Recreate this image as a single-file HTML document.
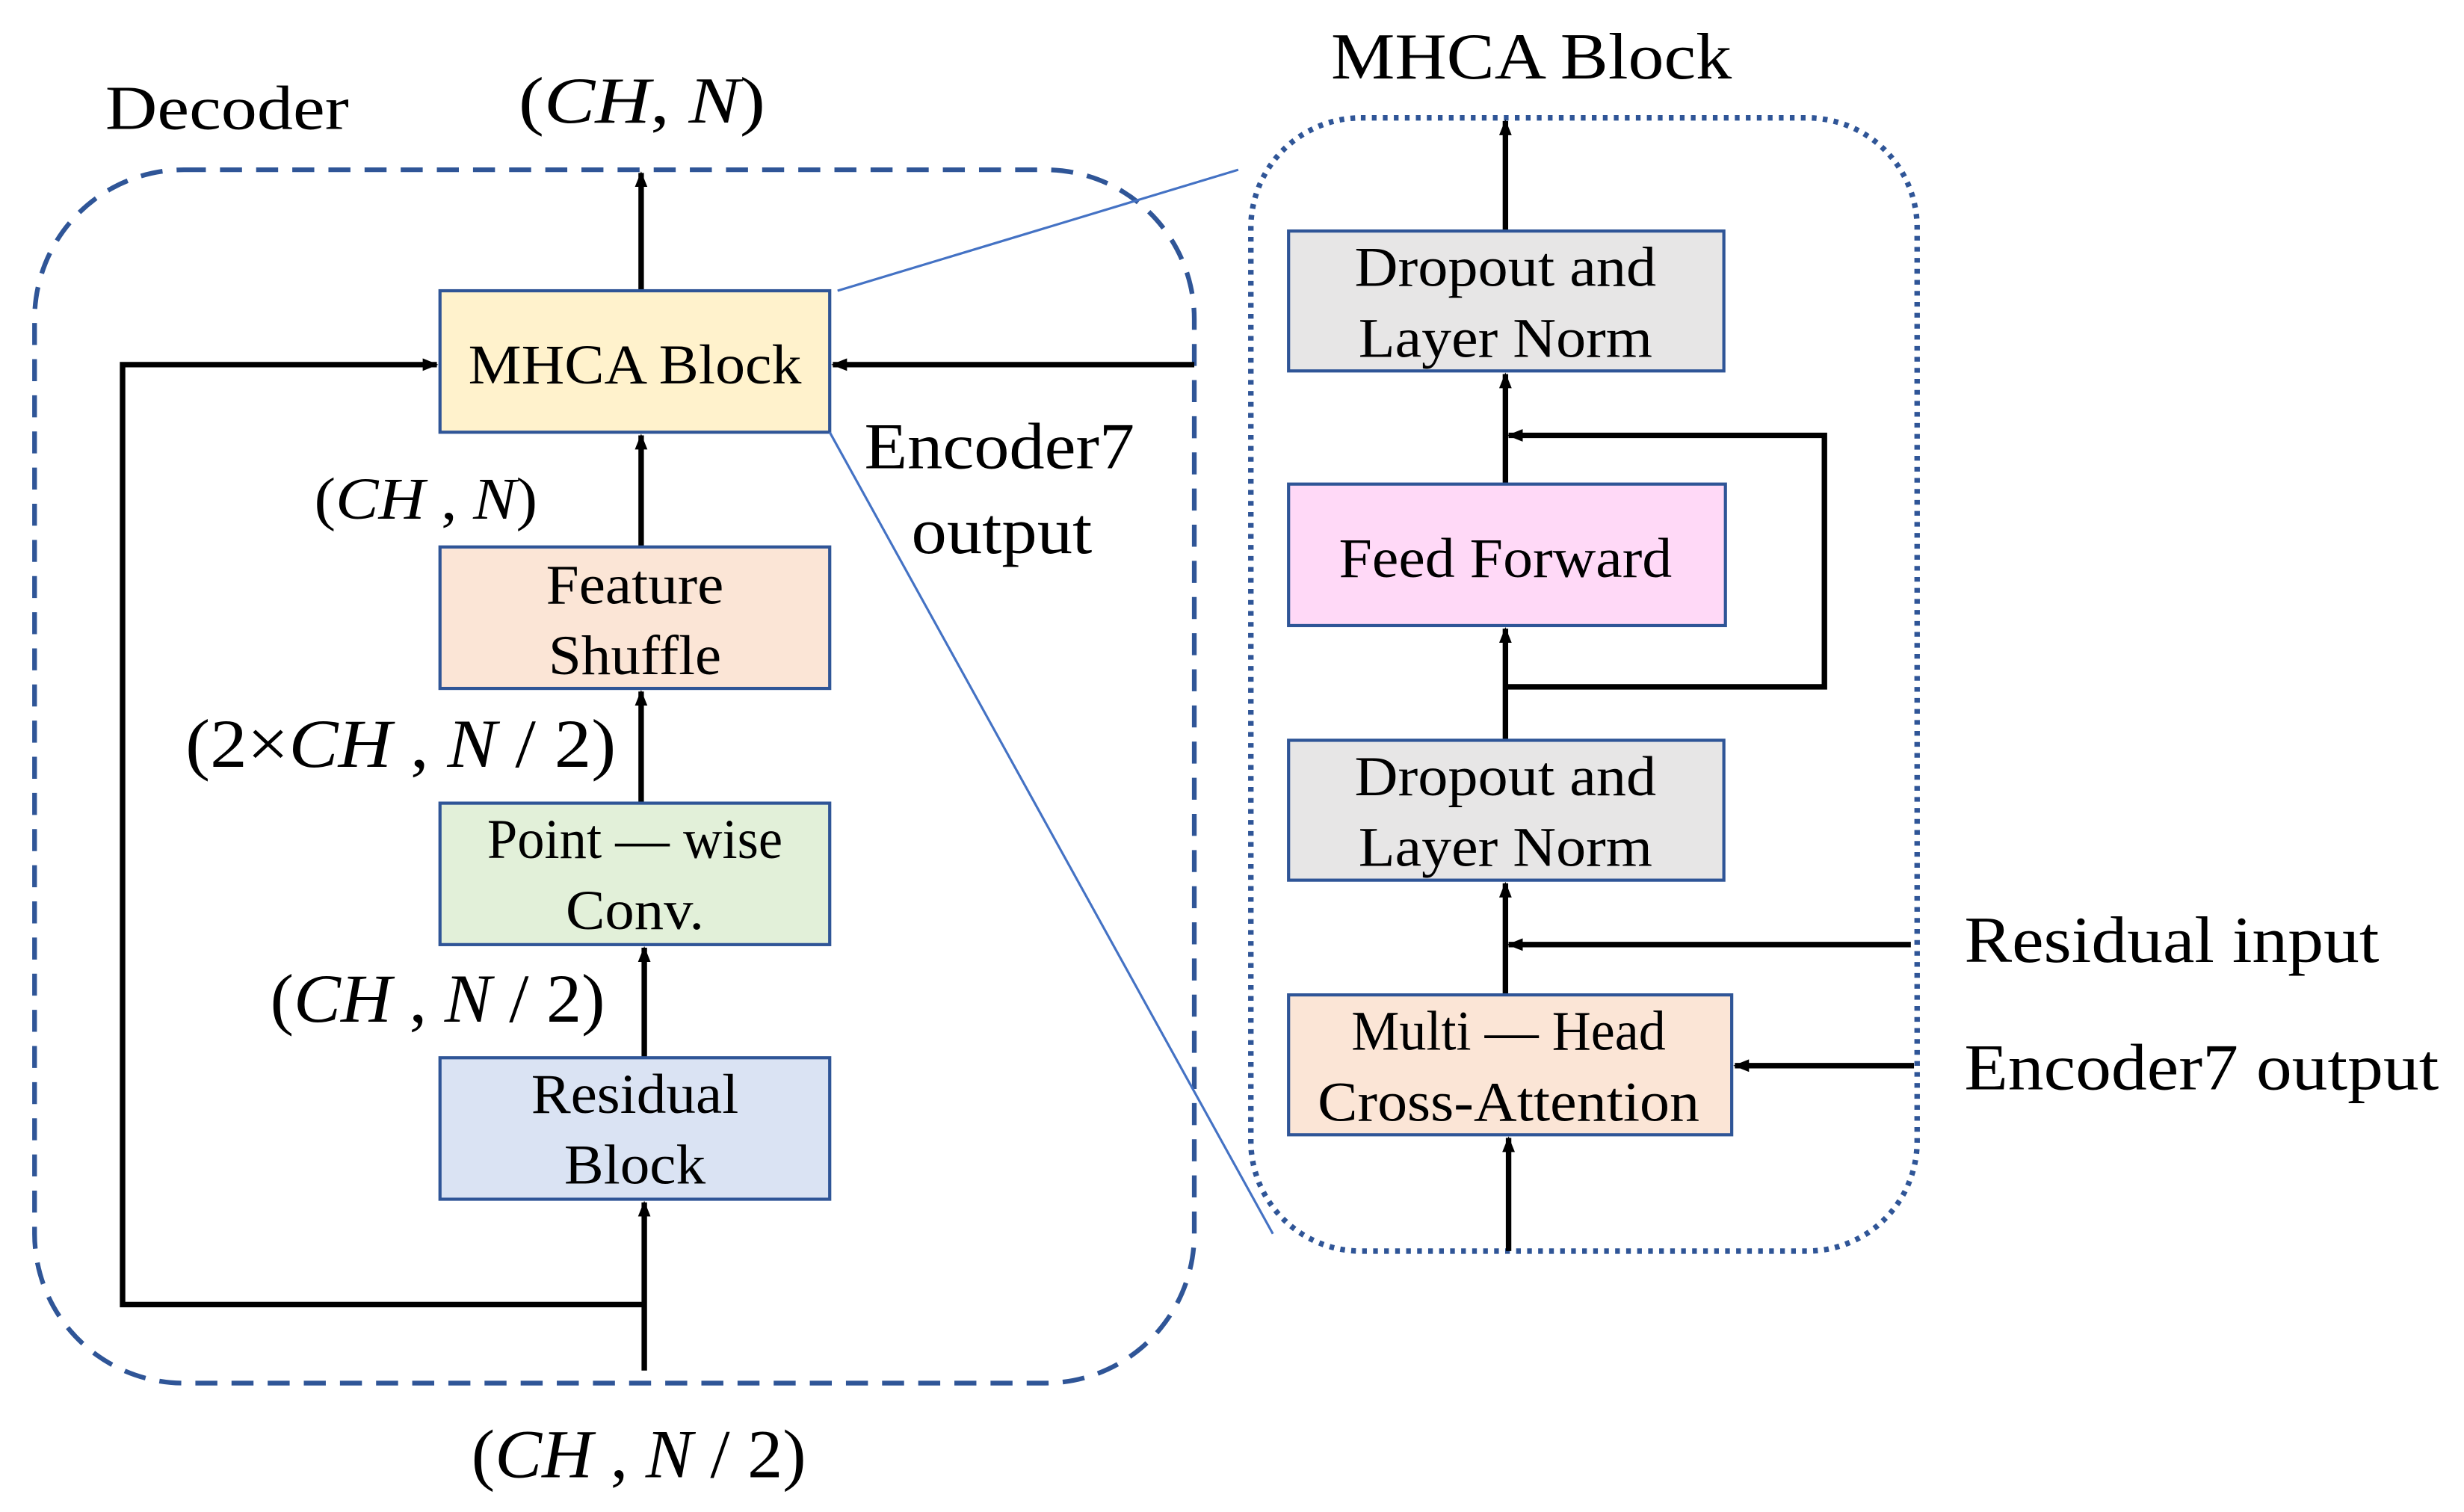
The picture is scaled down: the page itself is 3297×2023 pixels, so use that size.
<!DOCTYPE html>
<html><head><meta charset="utf-8"><style>
html,body{margin:0;padding:0;background:#fff;}
svg{display:block;}
text{font-family:"Liberation Serif",serif;fill:#000;}
.it{font-style:italic;}
</style></head><body>
<svg width="3297" height="2023" viewBox="0 0 1568 962" preserveAspectRatio="none" xmlns="http://www.w3.org/2000/svg">
<defs>
<marker id="a" markerWidth="10" markerHeight="8" refX="9" refY="4" orient="auto" markerUnits="userSpaceOnUse">
<path d="M0,0 L10,4 L0,8 z" fill="#000"/></marker>
</defs>
<rect x="22" y="108" width="738" height="772" rx="95" ry="95" fill="none" stroke="#2f5597" stroke-width="3" stroke-dasharray="14 9"/>
<text x="67" y="82" font-size="40" textLength="155" lengthAdjust="spacingAndGlyphs">Decoder</text>
<text x="330" y="78" font-size="42" textLength="157" lengthAdjust="spacingAndGlyphs">(<tspan class="it">CH</tspan>, <tspan class="it">N</tspan>)</text>

<g stroke="#000" stroke-width="3.5" fill="none">
<line x1="408" y1="185" x2="408" y2="110" marker-end="url(#a)"/>
<line x1="408" y1="348" x2="408" y2="277" marker-end="url(#a)"/>
<line x1="408" y1="511" x2="408" y2="440" marker-end="url(#a)"/>
<line x1="410" y1="673" x2="410" y2="603" marker-end="url(#a)"/>
<line x1="410" y1="872" x2="410" y2="765" marker-end="url(#a)"/>
<polyline points="410,830 78,830 78,232 278,232" marker-end="url(#a)"/>
<line x1="760" y1="232" x2="530" y2="232" marker-end="url(#a)"/>
</g>

<g stroke="#2f5597" stroke-width="2">
<rect x="280" y="185" width="248" height="90" fill="#fff2cc"/>
<rect x="280" y="348" width="248" height="90" fill="#fbe5d6"/>
<rect x="280" y="511" width="248" height="90" fill="#e2f0d9"/>
<rect x="280" y="673" width="248" height="90" fill="#dae3f3"/>
</g>
<g font-size="36" text-anchor="middle">
<text x="404" y="244" textLength="212" lengthAdjust="spacingAndGlyphs">MHCA Block</text>
<text x="404" y="384" textLength="113" lengthAdjust="spacingAndGlyphs">Feature</text><text x="404" y="429" textLength="110" lengthAdjust="spacingAndGlyphs">Shuffle</text>
<text x="404" y="546" textLength="188" lengthAdjust="spacingAndGlyphs">Point — wise</text><text x="404" y="591" textLength="88" lengthAdjust="spacingAndGlyphs">Conv.</text>
<text x="404" y="708" textLength="132" lengthAdjust="spacingAndGlyphs">Residual</text><text x="404" y="753" textLength="90" lengthAdjust="spacingAndGlyphs">Block</text>
</g>
<text x="200" y="330" font-size="38" textLength="142" lengthAdjust="spacingAndGlyphs">(<tspan class="it">CH</tspan> , <tspan class="it">N</tspan>)</text>
<text x="118" y="488" font-size="44" textLength="274" lengthAdjust="spacingAndGlyphs">(2×<tspan class="it">CH</tspan> , <tspan class="it">N</tspan> / 2)</text>
<text x="172" y="650" font-size="44" textLength="213" lengthAdjust="spacingAndGlyphs">(<tspan class="it">CH</tspan> , <tspan class="it">N</tspan> / 2)</text>
<text x="300" y="940" font-size="44" textLength="213" lengthAdjust="spacingAndGlyphs">(<tspan class="it">CH</tspan> , <tspan class="it">N</tspan> / 2)</text>
<text x="550" y="298" font-size="42" textLength="172" lengthAdjust="spacingAndGlyphs">Encoder7</text>
<text x="580" y="352" font-size="42" textLength="115" lengthAdjust="spacingAndGlyphs">output</text>

<line x1="533" y1="185" x2="788" y2="108" stroke="#4472c4" stroke-width="1.5"/>
<line x1="528" y1="275" x2="810" y2="785" stroke="#4472c4" stroke-width="1.5"/>

<rect x="796" y="75" width="424" height="721" rx="70" ry="70" fill="none" stroke="#2f5597" stroke-width="3.5" stroke-dasharray="3 4"/>
<text x="847" y="50" font-size="42" textLength="255" lengthAdjust="spacingAndGlyphs">MHCA Block</text>

<g stroke="#000" stroke-width="3.5" fill="none">
<line x1="958" y1="147" x2="958" y2="77" marker-end="url(#a)"/>
<line x1="958" y1="308" x2="958" y2="238" marker-end="url(#a)"/>
<line x1="958" y1="471" x2="958" y2="400" marker-end="url(#a)"/>
<polyline points="958,437 1161,437 1161,277 960,277" marker-end="url(#a)"/>
<line x1="958" y1="633" x2="958" y2="562" marker-end="url(#a)"/>
<line x1="1216" y1="601" x2="960" y2="601" marker-end="url(#a)"/>
<line x1="1218" y1="678" x2="1104" y2="678" marker-end="url(#a)"/>
<line x1="960" y1="796" x2="960" y2="724" marker-end="url(#a)"/>
</g>
<g stroke="#2f5597" stroke-width="2">
<rect x="820" y="147" width="277" height="89" fill="#e7e6e6"/>
<rect x="820" y="308" width="278" height="90" fill="#ffd9f7"/>
<rect x="820" y="471" width="277" height="89" fill="#e7e6e6"/>
<rect x="820" y="633" width="282" height="89" fill="#fbe5d6"/>
</g>
<g font-size="36" text-anchor="middle">
<text x="958" y="182" textLength="192" lengthAdjust="spacingAndGlyphs">Dropout and</text><text x="958" y="227" textLength="187" lengthAdjust="spacingAndGlyphs">Layer Norm</text>
<text x="958" y="367" textLength="212" lengthAdjust="spacingAndGlyphs">Feed Forward</text>
<text x="958" y="506" textLength="192" lengthAdjust="spacingAndGlyphs">Dropout and</text><text x="958" y="551" textLength="187" lengthAdjust="spacingAndGlyphs">Layer Norm</text>
<text x="960" y="668" textLength="200" lengthAdjust="spacingAndGlyphs">Multi — Head</text><text x="960" y="713" textLength="243" lengthAdjust="spacingAndGlyphs">Cross-Attention</text>
</g>
<text x="1250" y="612" font-size="42" textLength="264" lengthAdjust="spacingAndGlyphs">Residual input</text>
<text x="1250" y="693" font-size="42" textLength="302" lengthAdjust="spacingAndGlyphs">Encoder7 output</text>
</svg>
</body></html>
